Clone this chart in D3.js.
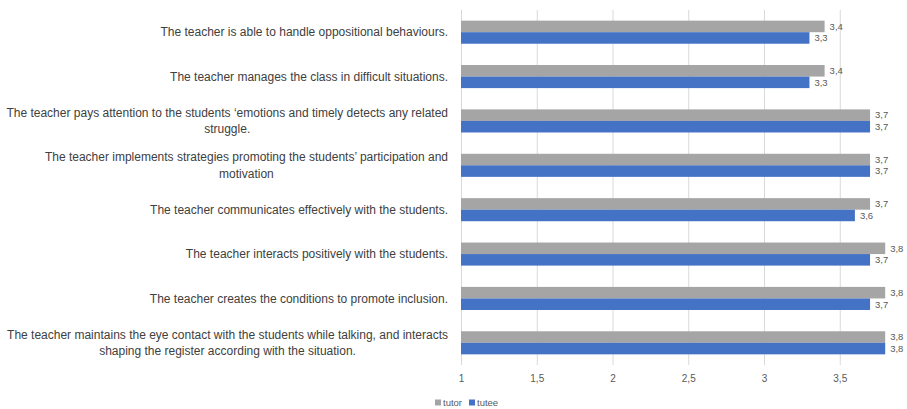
<!DOCTYPE html>
<html>
<head>
<meta charset="utf-8">
<script src="https://cdn.jsdelivr.net/npm/d3@7"></script>
<style>
  html, body { margin: 0; padding: 0; background: #fff; }
  svg { display: block; font-family: "Liberation Sans", Arial, sans-serif; }
</style>
</head>
<body>
<svg id="chart" width="907" height="409"></svg>
<script>
// Survey items, top to bottom (multi-line labels split with "\n")
const categories = [
  "The teacher is able to handle oppositional behaviours.",
  "The teacher manages the class in difficult situations.",
  "The teacher pays attention to the students \u2018emotions and timely detects any related\nstruggle.",
  "The teacher implements strategies promoting the students\u2019 participation and\nmotivation",
  "The teacher communicates effectively with the students.",
  "The teacher interacts positively with the students.",
  "The teacher creates the conditions to promote inclusion.",
  "The teacher maintains the eye contact with the students while talking, and interacts\nshaping the register according with the situation."
];
const tutorValues = [3.4, 3.4, 3.7, 3.7, 3.7, 3.8, 3.8, 3.8];
const tuteeValues = [3.3, 3.3, 3.7, 3.7, 3.6, 3.7, 3.7, 3.8];
const seriesNames = ["tutor", "tutee"];
const seriesColors = ["#a5a5a5", "#4472c4"];
const tickValues = [1, 1.5, 2, 2.5, 3, 3.5];

const svg = d3.select("#chart");
const fmt = v => String(v).replace(".", ",");

const x = d3.scaleLinear().domain([1, 4]).range([461, 915.5]);
const y = d3.scaleBand().domain(categories).range([10, 365])
  .paddingInner(0.48).paddingOuter(0.24);
const ySub = d3.scaleBand().domain(seriesNames).range([0, y.bandwidth()]);

// Vertical gridlines and tick labels
const xAxis = d3.axisBottom(x).tickValues(tickValues).tickFormat(fmt)
  .tickSize(-(365 - 10)).tickPadding(10);
const gx = svg.append("g").attr("transform", "translate(0,365)").call(xAxis);
gx.select(".domain").remove();
gx.selectAll(".tick line").attr("stroke", "#d9d9d9").attr("stroke-width", 1);
gx.selectAll(".tick text").attr("fill", "#595959").attr("font-size", 10);

// Bars
const rows = categories.map((c, i) => ({ c, vals: [tutorValues[i], tuteeValues[i]] }));
const group = svg.append("g").selectAll("g").data(rows).join("g")
  .attr("transform", d => `translate(0,${y(d.c)})`);

group.selectAll("rect").data(d => d.vals.map((v, k) => ({ v, k })))
  .join("rect")
  .attr("x", x(1))
  .attr("y", d => ySub(seriesNames[d.k]))
  .attr("width", d => x(d.v) - x(1))
  .attr("height", ySub.bandwidth())
  .attr("fill", d => seriesColors[d.k]);

// Value labels
group.selectAll("text.val").data(d => d.vals.map((v, k) => ({ v, k })))
  .join("text").attr("class", "val")
  .attr("x", d => x(d.v) + 5)
  .attr("y", d => ySub(seriesNames[d.k]) + ySub.bandwidth() / 2)
  .attr("dy", "0.35em")
  .attr("font-size", 9.5)
  .attr("fill", "#595959")
  .text(d => fmt(d.v));

// Category labels: block right-aligned to the axis, lines centred within the block
const labelRight = 448;
const lineH = 16.5;
const labels = svg.append("g").attr("font-size", 12).attr("fill", "#404040");
categories.forEach(c => {
  const lines = c.split("\n");
  const cy = y(c) + y.bandwidth() / 2;
  const t = labels.append("text").attr("text-anchor", "middle");
  const spans = lines.map((ln, i) => t.append("tspan")
    .attr("y", cy + (i - (lines.length - 1) / 2) * lineH)
    .attr("dy", "0.35em").text(ln));
  const widths = spans.map(s => s.node().getComputedTextLength());
  const w = d3.max(widths);
  spans.forEach(s => s.attr("x", labelRight - w / 2));
});

// Legend
const legend = svg.append("g").attr("transform", "translate(435,403)");
let lx = 0;
seriesNames.forEach((name, k) => {
  legend.append("rect").attr("x", lx).attr("y", -3.5).attr("width", 6).attr("height", 6)
    .attr("fill", seriesColors[k]);
  const t = legend.append("text").attr("x", lx + 8).attr("y", 0).attr("dy", "0.35em")
    .attr("font-size", 9.5).attr("fill", "#595959").text(name);
  lx += 8 + t.node().getComputedTextLength() + 7;
});
</script>
</body>
</html>
